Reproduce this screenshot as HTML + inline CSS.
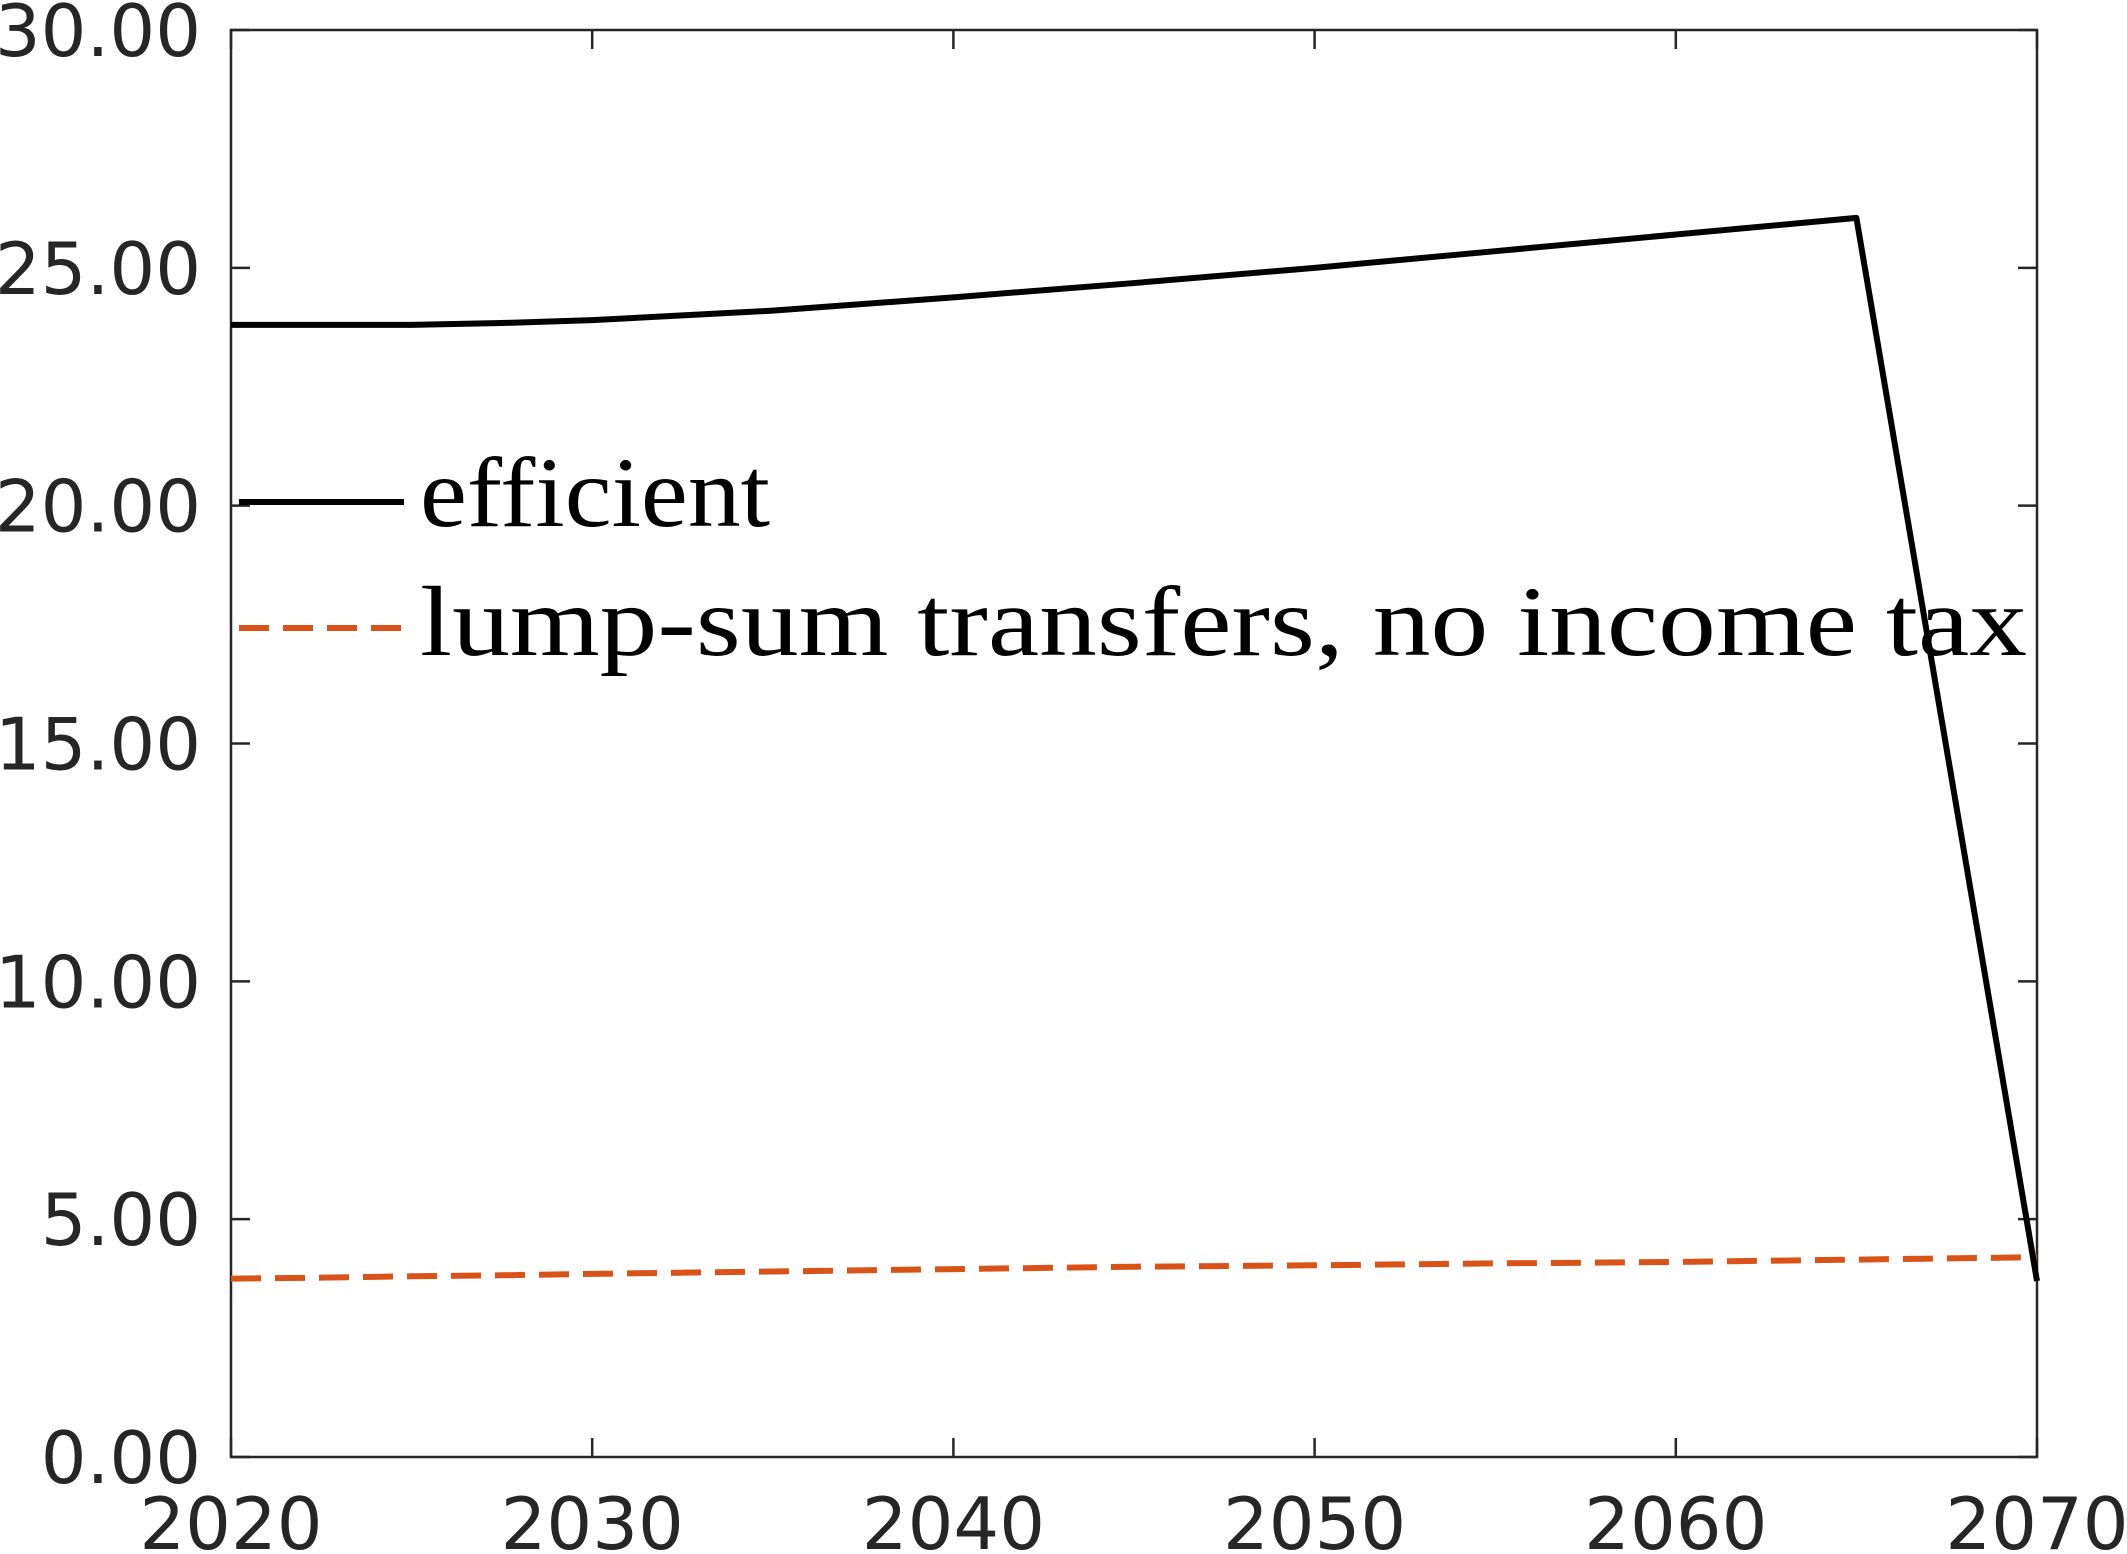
<!DOCTYPE html>
<html><head><meta charset="utf-8"><style>html,body{margin:0;padding:0;background:#fff}svg{display:block}</style></head>
<body>
<svg id="chart" width="2127" height="1554" xmlns="http://www.w3.org/2000/svg"></svg>
<script>
const years = [2020, 2022.5, 2025, 2027.5, 2030, 2035, 2040, 2045, 2050, 2055, 2060, 2065, 2070];
const efficient = [23.8, 23.8, 23.8, 23.84, 23.9, 24.1, 24.38, 24.68, 25.0, 25.35, 25.7, 26.05, 3.7];
const lumpSum = [3.75, 3.77, 3.8, 3.82, 3.85, 3.9, 3.95, 4.0, 4.03, 4.07, 4.1, 4.15, 4.2];
const xTicks = [2020, 2030, 2040, 2050, 2060, 2070];
const yTicks = [0, 5, 10, 15, 20, 25, 30];
const yTickLabels = ["0.00", "5.00", "10.00", "15.00", "20.00", "25.00", "30.00"];

const L = 231, R = 2037, T = 30, B = 1457;
const xS = v => L + (v - 2020) / 50 * (R - L);
const yS = v => B - v / 30 * (B - T);
const svg = document.getElementById('chart');
const NS = 'http://www.w3.org/2000/svg';
function mk(tag, attrs, parent) {
  const e = document.createElementNS(NS, tag);
  for (const k in attrs) e.setAttribute(k, attrs[k]);
  (parent || svg).appendChild(e);
  return e;
}
const axisCol = '#262626';
const frame = mk('rect', {x: L, y: T, width: R - L, height: B - T, fill: 'none', stroke: axisCol, 'stroke-width': 2.5});



xTicks.forEach(t => {
  const x = xS(t);
  const g = mk('g', {});
  
  
  mk('line', {x1: x, x2: x, y1: B, y2: B - 19, stroke: axisCol, 'stroke-width': 2.5}, g);
  mk('line', {x1: x, x2: x, y1: T, y2: T + 19, stroke: axisCol, 'stroke-width': 2.5}, g);
  const tx = mk('text', {x: x, y: 1549, 'text-anchor': 'middle', 'font-family': '"DejaVu Sans", "Liberation Sans", sans-serif', 'font-size': 72, fill: axisCol}, g);
  tx.textContent = t;
});
yTicks.forEach((t, i) => {
  const y = yS(t);
  const g = mk('g', {});
  
  
  mk('line', {x1: L, x2: L + 19, y1: y, y2: y, stroke: axisCol, 'stroke-width': 2.5}, g);
  mk('line', {x1: R, x2: R - 19, y1: y, y2: y, stroke: axisCol, 'stroke-width': 2.5}, g);
  const tx = mk('text', {x: 201, y: y + 26, 'text-anchor': 'end', 'font-family': '"DejaVu Sans", "Liberation Sans", sans-serif', 'font-size': 72, fill: axisCol}, g);
  tx.textContent = yTickLabels[i];
});

const pts = arr => arr.map((v, i) => xS(years[i]) + ',' + yS(v)).join(' ');
const l2 = mk('polyline', {points: pts(lumpSum), fill: 'none', stroke: '#d95319', 'stroke-width': 6, 'stroke-dasharray': '30,14'});


const l1 = mk('polyline', {points: pts(efficient), fill: 'none', stroke: '#000', 'stroke-width': 6, 'stroke-linejoin': 'round'});



const lg = mk('g', {});


const e1 = mk('g', {}, lg);


mk('line', {x1: 239, x2: 404, y1: 502, y2: 502, stroke: '#000', 'stroke-width': 6}, e1);
const t1 = mk('text', {x: 420, y: 526, 'font-family': '"Liberation Serif", serif', 'font-size': 100, fill: '#000', textLength: 350, lengthAdjust: 'spacingAndGlyphs'}, e1);
t1.textContent = 'efficient';
const e2 = mk('g', {}, lg);


mk('line', {x1: 239, x2: 410, y1: 628, y2: 628, stroke: '#d95319', 'stroke-width': 6, 'stroke-dasharray': '30,14'}, e2);
const t2 = mk('text', {x: 420, y: 655, 'font-family': '"Liberation Serif", serif', 'font-size': 100, fill: '#000', textLength: 1607, lengthAdjust: 'spacingAndGlyphs'}, e2);
t2.textContent = 'lump-sum transfers, no income tax';
</script>
</body></html>
